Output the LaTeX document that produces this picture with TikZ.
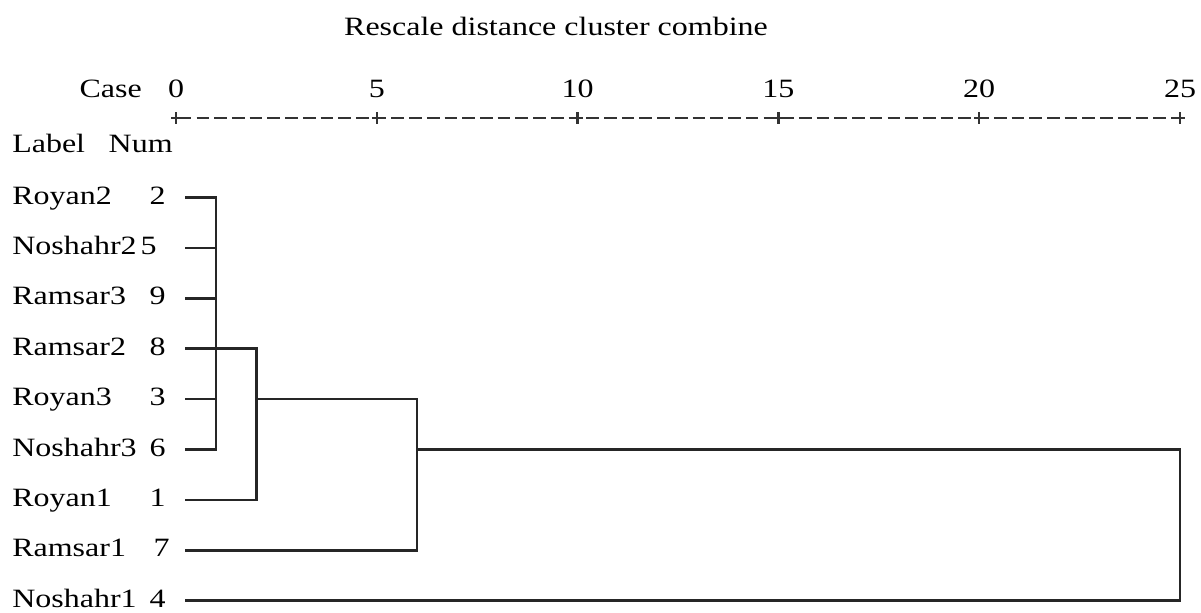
\documentclass[tikz,border=0pt]{standalone}
\usepackage{fontspec}
\setmainfont{Liberation Serif}[FakeStretch=1.21]
\usepackage{tikz}
\usetikzlibrary{positioning, calc}

\begin{document}
\begin{tikzpicture}[
    x=0.025cm, y=-0.025cm,
    txt/.style={font=\fontsize{18.8}{22}\selectfont, inner sep=0pt, text=black},
    casename/.style={txt, anchor=base west},
    casenum/.style={txt, anchor=base east},
    scalenum/.style={txt, anchor=base},
    branch/.style={draw=black!85, line width=1.8pt},
    axisline/.style={draw=black!80, line width=1.6pt},
    axisdash/.style={axisline, dash pattern=on 9pt off 3.6pt, dash phase=-2pt}
]
\useasboundingbox (0,0) rectangle (1201,612);

% Title and header
\node[txt, anchor=base] (title) at (556,35) {Rescale distance cluster combine};
\node[casenum] (casehead) at (142,97) {Case};
\node[casename] (labelhead) at (12,152) {Label};
\node[casenum] (numhead) at (173,152) {Num};

% Rescaled distance axis
\foreach \d in {0,5,...,25} {
    \coordinate (tick\d) at ({176+40.16*\d},118);
    \node[scalenum] (scale\d) at ({176+40.16*\d},97) {\d};
}
\foreach \d in {1,2,6}
    \coordinate (d\d) at ({176+40.16*\d},118);
\draw[axisdash] (tick0) -- (tick25);
\foreach \d in {0,5,...,25} {
    \draw[axisline] (tick\d) ++(0,-6) -- ++(0,12);
    \draw[axisline] (tick\d) ++(-5,0) -- ++(10,0);
}

% Cases: label, number and leaf end
\foreach \lab/\n/\r/\nx in {Royan2/2/0/166, Noshahr2/5/1/157, Ramsar3/9/2/166,
    Ramsar2/8/3/166, Royan3/3/4/166, Noshahr3/6/5/166, Royan1/1/6/166,
    Ramsar1/7/7/170, Noshahr1/4/8/166} {
    \coordinate (leaf\n) at (185,{197.5+50.4*\r});
    \node[casename] (name\n) at (12,{204+50.4*\r}) {\lab};
    \node[casenum] (num\n) at (\nx,{204+50.4*\r}) {\n};
}

% Dendrogram branches
\draw[branch] (leaf2) -- (leaf2 -| d1) -- (leaf6 -| d1) -- (leaf6);
\foreach \n in {5,9,3}
    \draw[branch] (leaf\n) -- (leaf\n -| d1);
\draw[branch] (leaf8) -- (leaf8 -| d2) -- (leaf1 -| d2) -- (leaf1);
\draw[branch] (leaf3 -| d2) -- (leaf3 -| d6) -- (leaf7 -| d6) -- (leaf7);
\draw[branch] (leaf6 -| d6) -- (leaf6 -| tick25) -- (leaf4 -| tick25) -- (leaf4);
\end{tikzpicture}
\end{document}
